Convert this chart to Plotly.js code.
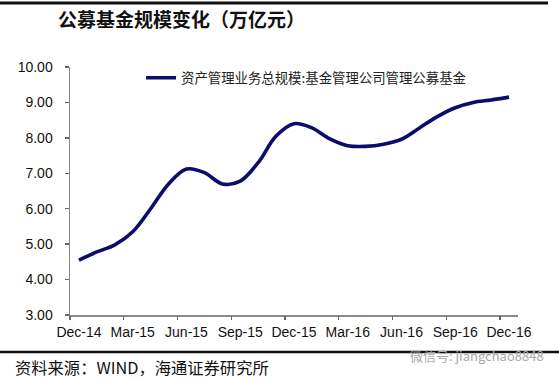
<!DOCTYPE html>
<html>
<head>
<meta charset="utf-8">
<script src="https://cdn.plot.ly/plotly-3.0.1.min.js"></script>
<style>html,body{margin:0;padding:0;background:#fff;}#chart{width:559px;height:380px;}</style>
</head>
<body>
<div id="chart"></div>
<script>
// Monthly, Dec-14 .. Dec-16
var months = ['Dec-14','Jan-15','Feb-15','Mar-15','Apr-15','May-15','Jun-15','Jul-15','Aug-15','Sep-15','Oct-15','Nov-15','Dec-15',
              'Jan-16','Feb-16','Mar-16','Apr-16','May-16','Jun-16','Jul-16','Aug-16','Sep-16','Oct-16','Nov-16','Dec-16'];
var aumValues = [4.55,4.78,4.98,5.35,6.00,6.70,7.12,7.02,6.70,6.78,7.30,8.05,8.40,
                 8.28,7.97,7.78,7.76,7.82,7.96,8.28,8.60,8.85,9.00,9.07,9.15];
var tickLabels = ['Dec-14','Mar-15','Jun-15','Sep-15','Dec-15','Mar-16','Jun-16','Sep-16','Dec-16'];
var yTicks = [3,4,5,6,7,8,9,10];
var seriesName = '资产管理业务总规模:基金管理公司管理公募基金';
var chartTitle = '公募基金规模变化（万亿元）';
var sourceText = '资料来源：WIND，海通证券研究所';
var watermark = '微信号: jiangchao8848';

var n = months.length;
var boundaryTicks = tickLabels.map(function(l){ return months.indexOf(l) - 0.5; });

var W = 559, H = 380, L = 70, R = 41, T = 67, B = 65;
var pw = W - L - R, ph = H - T - B;
function px2x(px){ return (px - L) / pw; }
function py2y(py){ return (H - B - py) / ph; }

var traces = [
  {x: months, y: aumValues, type: 'scatter', mode: 'lines', name: seriesName,
   line: {color: '#0c0c6a', width: 3.6, shape: 'spline', smoothing: 1}, hoverinfo: 'x+y'},
  {x: [-0.5, n - 0.5], y: [null, null], xaxis: 'x2', yaxis: 'y', type: 'scatter', mode: 'lines',
   showlegend: false, hoverinfo: 'skip'}
];

var axisFont = {family: 'Liberation Sans, Arial, sans-serif', size: 14, color: '#111'};
var layout = {
  width: W, height: H,
  margin: {l: L, r: R, t: T, b: B},
  paper_bgcolor: '#fff', plot_bgcolor: '#fff',
  showlegend: true,
  title: {text: chartTitle, x: 58 / W, xref: 'container', xanchor: 'left',
          y: 1 - 20 / H, yref: 'container', yanchor: 'middle',
          font: {family: 'Noto Sans CJK SC, sans-serif', size: 19, weight: 700, color: '#111'}},
  legend: {x: px2x(141), y: py2y(78), xanchor: 'left', yanchor: 'middle', bgcolor: 'rgba(0,0,0,0)',
           borderwidth: 0, font: {family: 'Noto Sans CJK SC, sans-serif', size: 13.4, color: '#222'}},
  xaxis: {type: 'category', categoryorder: 'array', categoryarray: months, range: [-0.5, n - 0.5],
          tickmode: 'array', tickvals: tickLabels, ticktext: tickLabels, ticks: '',
          showline: true, linecolor: '#8a8a8a', linewidth: 1.5, showgrid: false, zeroline: false,
          tickfont: axisFont, ticklabelstandoff: 4, fixedrange: true},
  xaxis2: {type: 'linear', overlaying: 'x', anchor: 'y', side: 'bottom', range: [-0.5, n - 0.5],
           tickmode: 'array', tickvals: boundaryTicks, ticks: 'outside', ticklen: 4, tickwidth: 1.3,
           tickcolor: '#666', showticklabels: false, showline: false, showgrid: false, zeroline: false},
  yaxis: {range: [3, 10], tickmode: 'array', tickvals: yTicks, tickformat: '.2f', ticks: 'outside',
          ticklen: 4, tickwidth: 1.3, tickcolor: '#666', showline: true, linecolor: '#8a8a8a', linewidth: 1.5,
          showgrid: false, zeroline: false, tickfont: axisFont, ticklabelstandoff: 9, fixedrange: true},
  shapes: [
    {type: 'line', xref: 'paper', yref: 'paper', x0: px2x(0), x1: px2x(548), y0: py2y(3), y1: py2y(3),
     line: {color: '#111', width: 3}},
    {type: 'line', xref: 'paper', yref: 'paper', x0: px2x(0), x1: px2x(559), y0: py2y(352), y1: py2y(352),
     line: {color: '#111', width: 2.5}}
  ],
  annotations: [
    {text: sourceText, xref: 'paper', yref: 'paper', x: px2x(13), y: py2y(367), xanchor: 'left', yanchor: 'middle',
     showarrow: false, font: {family: 'Noto Sans CJK SC, sans-serif', size: 16.3, color: '#111'}},
    {text: watermark, xref: 'paper', yref: 'paper', x: px2x(408), y: py2y(355), xanchor: 'left', yanchor: 'middle',
     showarrow: false, font: {family: 'Noto Sans CJK SC, sans-serif', size: 13, color: '#a8a8a8'}}
  ]
};

Plotly.newPlot('chart', traces, layout, {displayModeBar: false, staticPlot: true});
</script>
</body>
</html>
